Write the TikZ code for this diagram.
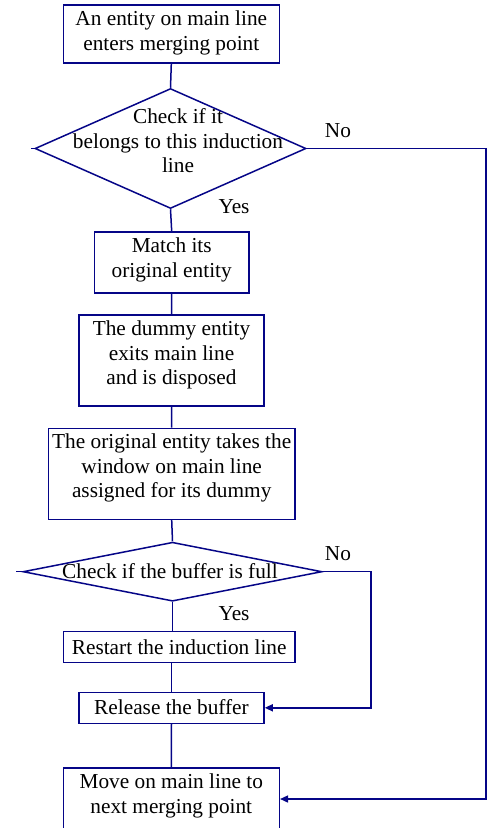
\documentclass[tikz,border=0pt]{standalone}
\usepackage{fontspec}
\setmainfont{Liberation Serif}
\usetikzlibrary{shapes.geometric,arrows.meta}
\definecolor{navyline}{RGB}{5,5,135}
\begin{document}
\begin{tikzpicture}[x=1pt,y=1pt,
  line width=1.5pt,
  box/.style={draw=navyline, rectangle, inner sep=0pt},
  dia/.style={draw=navyline, diamond, inner sep=0pt},
  txt/.style={inner sep=0pt, align=center, font=\fontsize{21.3}{24.5}\selectfont},
  conn/.style={draw=navyline},
  arr/.style={draw=navyline, -{Triangle[length=8pt,width=7pt]}}]
\useasboundingbox (0,0) rectangle (493,-828);
% shapes
\node[box, minimum width=216pt, minimum height=58pt] (b1) at (171.3,-34.2) {};
\node[dia, minimum width=271pt, minimum height=120pt] (d1) at (170.5,-148.5) {};
\node[box, minimum width=154.7pt, minimum height=61pt] (b2) at (171.7,-262.7) {};
\node[box, minimum width=185pt, minimum height=91pt] (b3) at (171.5,-360.3) {};
\node[box, minimum width=246.7pt, minimum height=91pt] (b4) at (171.7,-473.8) {};
\node[dia, minimum width=299pt, minimum height=59pt] (d2) at (172.5,-571.7) {};
\node[box, minimum width=231.7pt, minimum height=31pt] (b5) at (179.2,-647.2) {};
\node[box, minimum width=185pt, minimum height=31pt] (b6) at (171.5,-707.8) {};
\node[box, minimum width=216pt, minimum height=62pt] (b7) at (171.3,-799) {};
% texts
\node[txt] (t1) at (171.3,-33) {An entity on main line\\enters merging point};
\node[txt] (t2) at (178,-141) {Check if it\\belongs to this induction\\line};
\node[txt] (t3) at (171.7,-260) {Match its\\original entity};
\node[txt] (t4) at (171.5,-355) {The dummy entity\\exits main line\\and is disposed};
\node[txt] (t5) at (171.7,-468) {The original entity takes the\\window on main line\\assigned for its dummy};
\node[txt] (t6) at (170,-571) {Check if the buffer is full};
\node[txt] (t7) at (179.2,-647) {Restart the induction line};
\node[txt] (t8) at (171.5,-707) {Release the buffer};
\node[txt] (t9) at (171.3,-796) {Move on main line to\\next merging point};
% labels
\node[txt] (no1) at (338,-131) {No};
\node[txt] (yes1) at (234,-207) {Yes};
\node[txt] (no2) at (338,-554) {No};
\node[txt] (yes2) at (234,-614) {Yes};
% route coordinates
\coordinate (r1) at (486,0);
\coordinate (r2) at (371,0);
% connectors
\draw[conn] (b1.south) -- (d1.north);
\draw[conn] (d1.south) -- (b2.north);
\draw[conn] (b2.south) -- (b3.north);
\draw[conn] (b3.south) -- (b4.north);
\draw[conn] (b4.south) -- (d2.north);
\draw[conn] (d2.south) -- (d2.south |- b5.north);
\draw[conn] (b6.north |- b5.south) -- (b6.north);
\draw[conn] (b6.south) -- (b7.north);
\draw[arr] (d1.east) -| (r1 |- b7.east) -- (b7.east);
\draw[arr] (d2.east) -| (r2 |- b6.east) -- (b6.east);
% small stubs at left tips
\draw[conn] (d1.west) -- ++(-3,0);
\draw[conn] (d2.west) -- ++(-6,0);
\end{tikzpicture}
\end{document}
